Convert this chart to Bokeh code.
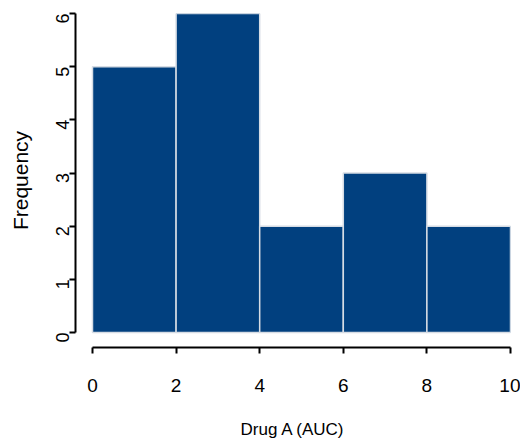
from bokeh.plotting import figure
from bokeh.models import Range1d, FixedTicker
from bokeh.embed import file_html
from bokeh.resources import INLINE
import math

# Data
bin_left = [0, 2, 4, 6, 8]
bin_right = [2, 4, 6, 8, 10]
counts = [5, 6, 2, 3, 2]
x_ticks = [0, 2, 4, 6, 8, 10]
y_ticks = [0, 1, 2, 3, 4, 5, 6]

p = figure(width=520, height=448, output_backend="svg", toolbar_location=None,
           x_range=Range1d(-0.4067, 10), y_range=Range1d(-0.2821, 6))
p.min_border_left = 75
p.min_border_right = 10
p.min_border_top = 13
p.min_border_bottom = 101
p.outline_line_color = None
p.xgrid.grid_line_color = None
p.ygrid.grid_line_color = None
p.background_fill_color = "white"
p.border_fill_color = "white"

p.quad(left=bin_left, right=bin_right, bottom=0, top=counts,
       fill_color="#01407F", line_color="#d6dce4", line_width=1.5)

font = "Liberation Sans"
for ax in (p.xaxis[0], p.yaxis[0]):
    ax.axis_line_width = 2
    ax.major_tick_line_width = 2
    ax.major_tick_out = 6
    ax.major_tick_in = 0
    ax.minor_tick_line_color = None
    ax.major_label_text_font = font
    ax.major_label_text_color = "black"
    ax.axis_label_text_font = font
    ax.axis_label_text_font_style = "normal"
    ax.axis_label_text_color = "black"
    ax.axis_line_color = "black"
    ax.major_tick_line_color = "black"

p.xaxis.ticker = FixedTicker(ticks=x_ticks)
p.xaxis.bounds = (0, 10)
p.xaxis.major_label_text_font_size = "19px"
p.xaxis.major_label_standoff = 25
p.xaxis.axis_label = "Drug A (AUC)"
p.xaxis.axis_label_text_font_size = "17px"
p.xaxis.axis_label_standoff = 25

p.yaxis.ticker = FixedTicker(ticks=y_ticks)
p.yaxis.bounds = (0, 6)
p.yaxis.major_label_text_font_size = "18px"
p.yaxis.major_label_orientation = math.pi / 2
p.yaxis.major_label_standoff = 7
p.yaxis.axis_label = "Frequency"
p.yaxis.axis_label_text_font_size = "21px"
p.yaxis.axis_label_standoff = 15

open("out.html", "w").write(file_html(p, INLINE))
